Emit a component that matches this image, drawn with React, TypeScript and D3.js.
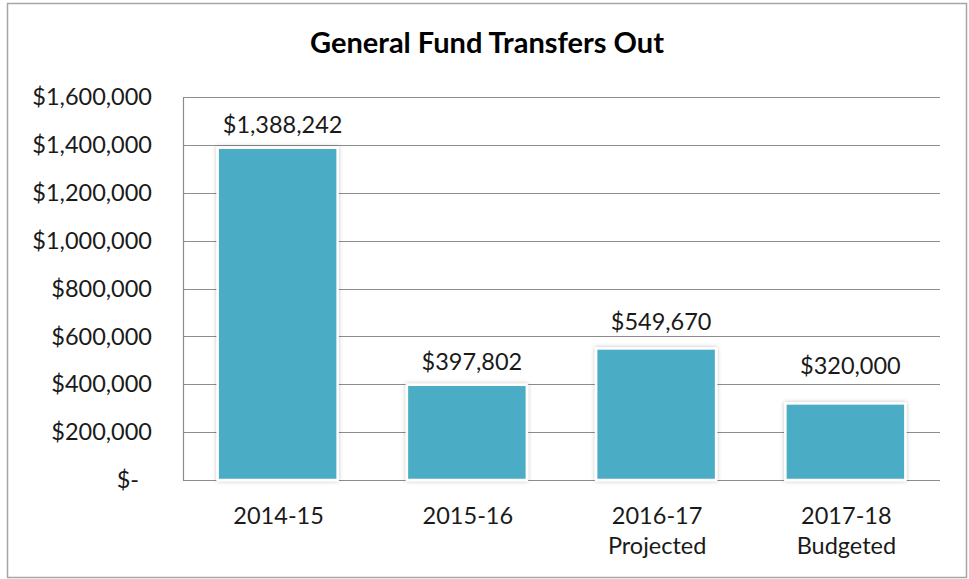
import React, { useEffect, useRef } from "react";
import * as d3 from "d3";

const categories: string[][] = [["2014-15"], ["2015-16"], ["2016-17", "Projected"], ["2017-18", "Budgeted"]];
const values: number[] = [1388242, 397802, 549670, 320000];
const yTicks: number[] = [0, 200000, 400000, 600000, 800000, 1000000, 1200000, 1400000, 1600000];
const title = "General Fund Transfers Out";

const W = 969;
const H = 579;
const FONT = "Lato, 'Open Sans', sans-serif";
// extra vertical lift per data label (layout only)
const LABEL_LIFT = [0, 0, 3, 14];

export default function App() {
  const ref = useRef<SVGSVGElement>(null);

  useEffect(() => {
    const svg = d3.select(ref.current);
    svg.selectAll("*").remove();

    const defs = svg.append("defs");
    const f = defs.append("filter").attr("id", "shadow").attr("x", "-10%").attr("y", "-10%").attr("width", "120%").attr("height", "120%");
    f.append("feDropShadow").attr("dx", 0).attr("dy", 0).attr("stdDeviation", 2).attr("flood-color", "#000").attr("flood-opacity", 0.25);

    // outer border
    svg.append("rect").attr("x", 7.5).attr("y", 3.5).attr("width", 959).attr("height", 574)
      .attr("fill", "#fff").attr("stroke", "#a6a6a6").attr("stroke-width", 1.5);

    const left = 183, right = 940, top = 97, bottom = 480;
    const x = d3.scaleBand<number>().domain(d3.range(values.length)).range([left, right]).paddingInner(0.366).paddingOuter(0.183);
    const y = d3.scaleLinear().domain([0, 1600000]).range([bottom, top]);

    // title
    svg.append("text").attr("x", 487).attr("y", 53).attr("text-anchor", "middle")
      .attr("font-family", FONT).attr("font-weight", "bold").attr("font-size", 29).attr("fill", "#000").text(title);

    // gridlines
    svg.append("g").selectAll("line").data(yTicks).join("line")
      .attr("x1", left).attr("x2", right)
      .attr("y1", (d) => Math.round(y(d)) + 0.5).attr("y2", (d) => Math.round(y(d)) + 0.5)
      .attr("stroke", "#8c8c8c").attr("stroke-width", 1.2);

    // left axis line
    svg.append("line").attr("x1", left + 0.5).attr("x2", left + 0.5).attr("y1", Math.round(y(1600000)) + 0.5).attr("y2", Math.round(y(0)) + 0.5)
      .attr("stroke", "#8c8c8c").attr("stroke-width", 1.2);

    const fmt = d3.format("$,.0f");
    // y tick labels
    svg.append("g").selectAll("text").data(yTicks).join("text")
      .attr("x", (d) => (d === 0 ? 139 : 152)).attr("y", (d) => y(d)).attr("dy", "0.35em")
      .attr("text-anchor", "end").attr("font-family", FONT).attr("font-size", 23.5).attr("fill", "#1a1a1a")
      .text((d) => (d === 0 ? "$-" : fmt(d)));

    // bars
    svg.append("g").selectAll("rect").data(values).join("rect")
      .attr("x", (_, i) => x(i)!).attr("width", x.bandwidth())
      .attr("y", (d) => y(d)).attr("height", (d) => y(0) - y(d))
      .attr("fill", "#4bacc6").attr("stroke", "#ffffff").attr("stroke-width", 2.5)
      .attr("filter", "url(#shadow)");

    // data labels
    svg.append("g").selectAll("text").data(values).join("text")
      .attr("x", (_, i) => x(i)! + x.bandwidth() / 2 + 5).attr("y", (d, i) => y(d) - 15 - LABEL_LIFT[i])
      .attr("text-anchor", "middle").attr("font-family", FONT).attr("font-size", 23.5).attr("fill", "#1a1a1a")
      .text((d) => fmt(d));

    // category labels
    const cat = svg.append("g").selectAll("text").data(categories).join("text")
      .attr("x", (_, i) => x(i)! + x.bandwidth() / 2 + 1).attr("y", 524)
      .attr("text-anchor", "middle").attr("font-family", FONT).attr("font-size", 23.5).attr("fill", "#1a1a1a");
    cat.selectAll("tspan").data((d) => d).join("tspan")
      .attr("x", function () { return (this.parentNode as SVGTextElement).getAttribute("x"); })
      .attr("dy", (_, j) => (j === 0 ? 0 : 30))
      .text((d) => d);
  }, []);

  return (
    <svg ref={ref} width={W} height={H} style={{ position: "absolute", left: 0, top: 0, background: "#fff" }} />
  );
}
